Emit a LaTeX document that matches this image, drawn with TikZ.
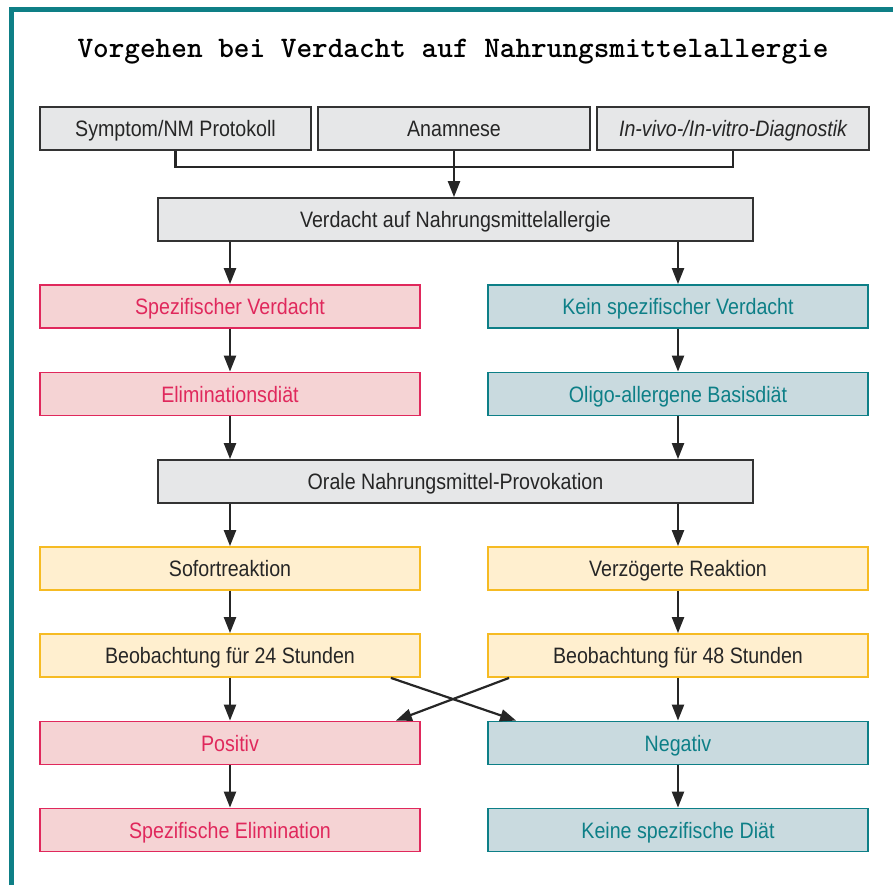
\documentclass[tikz,border=0pt]{standalone}
\usepackage{fontspec}
\setmainfont{Liberation Sans}[FakeStretch=0.88]
\usepackage{tikz}
\usetikzlibrary{arrows,arrows.meta}
\usetikzlibrary{positioning,calc}
\definecolor{rahmen}{HTML}{0E7F86}
\definecolor{graufill}{HTML}{E6E7E8}
\definecolor{grauline}{HTML}{333333}
\definecolor{rotline}{HTML}{E0285C}
\definecolor{rotfill}{HTML}{F5D3D4}
\definecolor{tuerkline}{HTML}{0D7F87}
\definecolor{tuerkfill}{HTML}{C9DADF}
\definecolor{gelbline}{HTML}{F6BB23}
\definecolor{gelbfill}{HTML}{FFEFCF}

\begin{document}
\begin{tikzpicture}[x=1pt, y=-1pt, >={Triangle[length=16pt,width=12pt]},
		box/.style={draw, line width=1.8pt, minimum height=43pt, inner sep=0pt,
			text height=16pt, text depth=0pt, font=\fontsize{22.3}{26}\selectfont},
		graubox/.style={box, draw=grauline, fill=graufill, text=black!85},
		rotbox/.style={box, draw=rotline, fill=rotfill, text=rotline, minimum width=380pt},
		tuerkbox/.style={box, draw=tuerkline, fill=tuerkfill, text=tuerkline, minimum width=380pt},
		gelbbox/.style={box, draw=gelbline, fill=gelbfill, text=black!85, minimum width=380pt},
		pfeil/.style={->, line width=2.2pt, draw=black!85}]
			\useasboundingbox (0,0) rectangle (893,885);
			\draw[rahmen, line width=5pt] (11.5,885) -- (11.5,10) -- (893,10);
			\node (titel) at (453,52) {\ttfamily\bfseries\fontsize{29.8}{34}\selectfont Vorgehen bei Verdacht auf Nahrungsmittelallergie};
			% Eingangsbefunde
			\node[graubox, minimum width=271pt] (sym) at (175.5,128.5) {Symptom/NM Protokoll};
			\node[graubox, minimum width=272pt] (anam) at (454,128.5) {Anamnese};
			\node[graubox, minimum width=272pt] (diag) at (733,128.5) {\itshape In-vivo-/In-vitro-Diagnostik};
			\node[graubox, minimum width=595pt] (verd) at (455.5,219.5) {Verdacht auf Nahrungsmittelallergie};
			\coordinate (j) at (454,167);
			\draw[line width=2.2pt, black!85] (sym.south) |- (j) -| (diag.south);
			\draw[pfeil] (anam.south) -- (anam.south |- verd.north);
			% Diaetphase
			\node[rotbox] (spez) at (230,306.5) {Spezifischer Verdacht};
			\node[tuerkbox] (kein) at (678,306.5) {Kein spezifischer Verdacht};
			\node[rotbox] (elim) at (230,394) {Eliminationsdiät};
			\node[tuerkbox] (oligo) at (678,394) {Oligo-allergene Basisdiät};
			\node[graubox, minimum width=595pt] (orale) at (455.5,481.5) {Orale Nahrungsmittel-Provokation};
			\draw[pfeil] (spez.north |- verd.south) -- (spez.north);
			\draw[pfeil] (kein.north |- verd.south) -- (kein.north);
			\draw[pfeil] (spez) -- (elim);
			\draw[pfeil] (kein) -- (oligo);
			\draw[pfeil] (elim.south) -- (elim.south |- orale.north);
			\draw[pfeil] (oligo.south) -- (oligo.south |- orale.north);
			% Provokation
			\node[gelbbox] (sofort) at (230,568.5) {Sofortreaktion};
			\node[gelbbox] (verz) at (678,568.5) {Verzögerte Reaktion};
			\node[gelbbox] (beob24) at (230,655.5) {Beobachtung für 24 Stunden};
			\node[gelbbox] (beob48) at (678,655.5) {Beobachtung für 48 Stunden};
			\draw[pfeil] (sofort.north |- orale.south) -- (sofort.north);
			\draw[pfeil] (verz.north |- orale.south) -- (verz.north);
			\draw[pfeil] (sofort) -- (beob24);
			\draw[pfeil] (verz) -- (beob48);
			% Ergebnis
			\node[rotbox] (pos) at (230,743) {Positiv};
			\node[tuerkbox] (neg) at (678,743) {Negativ};
			\node[rotbox] (spelim) at (230,830) {Spezifische Elimination};
			\node[tuerkbox] (keine) at (678,830) {Keine spezifische Diät};
			\draw[pfeil] (beob24) -- (pos);
			\draw[pfeil] (beob48) -- (neg);
			\draw[pfeil] ([xshift=-30pt]beob24.south east) -- ([xshift=29pt]neg.north west);
			\draw[pfeil] ([xshift=22pt]beob48.south west) -- ([xshift=-25pt]pos.north east);
			\draw[pfeil] (pos) -- (spelim);
			\draw[pfeil] (neg) -- (keine);
		\end{tikzpicture}
\end{document}
